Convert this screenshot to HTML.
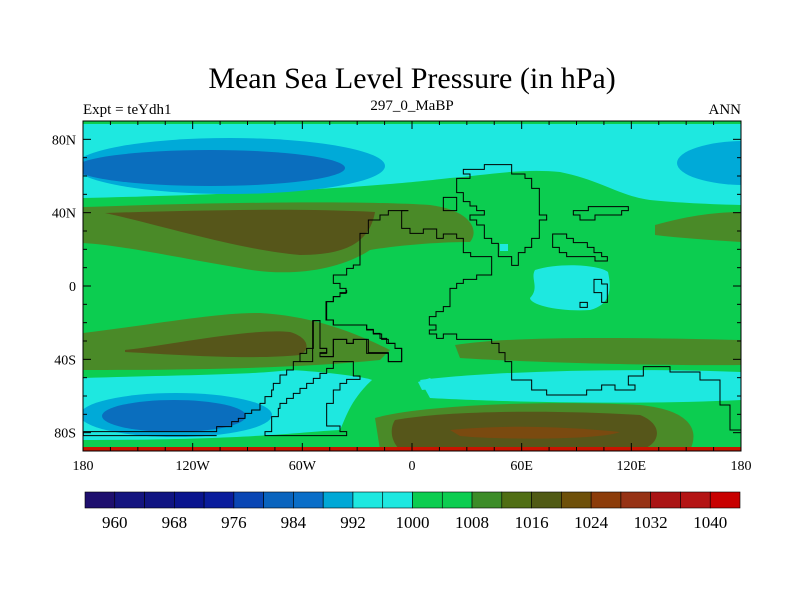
<!DOCTYPE html>
<html><head><meta charset="utf-8"><style>
body{margin:0;background:#fff;}
svg{display:block;font-family:"Liberation Serif",serif;}
</style></head><body>
<svg id="chart" width="800" height="600" viewBox="0 0 800 600">
<text x="412" y="88" font-size="30" text-anchor="middle">Mean Sea Level Pressure (in hPa)</text>
<text x="83" y="114" font-size="15">Expt = teYdh1</text>
<text x="412" y="110" font-size="15" text-anchor="middle">297_0_MaBP</text>
<text x="741" y="114" font-size="15" text-anchor="end">ANN</text>
<defs><clipPath id="mapclip"><rect x="83" y="121" width="658" height="330"/></clipPath></defs>
<g clip-path="url(#mapclip)">
<rect x="83" y="121" width="658" height="330" fill="#0ccd50"/>
<path d="M83,124 L741,124 L741,205 C700,204 670,202 650,200 C620,196 600,180 560,172 C520,168 480,176 450,178 C400,184 300,193 83,198 Z" fill="#1ee8e0"/>
<ellipse cx="230" cy="166" rx="155" ry="28" fill="#00aad8"/>
<ellipse cx="210" cy="168" rx="135" ry="18" fill="#0a6ebe"/>
<ellipse cx="745" cy="163" rx="68" ry="22" fill="#00aad8"/>
<path d="M83,207 C200,203 350,200 430,205 C470,210 480,230 470,242 C440,242 400,245 370,250 C340,270 290,278 240,268 C180,258 120,245 83,243 Z" fill="#4a8a28"/>
<path d="M105,213 C200,210 300,208 375,212 C370,240 350,255 300,255 C240,250 160,225 105,213 Z" fill="#56561a"/>
<path d="M655,225 C690,215 720,212 741,212 L741,242 C710,240 680,238 655,235 Z" fill="#4a8a28"/>
<path d="M535,270 C560,262 600,265 608,272 C612,290 610,305 590,310 C560,312 530,305 530,298 C540,288 530,278 535,270 Z" fill="#1ee8e0"/>
<rect x="500" y="244" width="8" height="7" fill="#1ee8e0"/>
<path d="M83,333 C150,325 220,312 260,313 C310,316 350,330 390,350 L380,360 C300,368 200,370 83,370 Z" fill="#4a8a28"/>
<path d="M125,350 C170,345 250,328 290,332 C310,338 310,350 300,355 C250,360 180,355 125,352 Z" fill="#56561a"/>
<path d="M455,345 C520,335 640,338 741,340 L741,365 C650,366 520,362 460,358 Z" fill="#4a8a28"/>
<path d="M83,378 C180,375 250,375 290,370 C330,372 370,378 372,380 C350,400 345,420 340,430 C300,432 250,440 83,440 Z" fill="#1ee8e0"/>
<path d="M420,380 C500,370 650,368 741,372 L741,400 C640,405 500,402 430,398 Z" fill="#1ee8e0"/>
<path d="M418,382 L430,378 L440,388 L422,390 Z" fill="#1ee8e0"/>
<ellipse cx="176" cy="415" rx="96" ry="22" fill="#00aad8"/>
<ellipse cx="174" cy="416" rx="72" ry="16" fill="#0a6ebe"/>
<path d="M375,418 C420,405 550,400 640,405 C690,410 700,430 690,450 L380,450 Z" fill="#4a8a28"/>
<path d="M395,420 C450,410 560,410 640,415 C665,425 660,445 640,450 L400,450 C390,440 390,428 395,420 Z" fill="#56561a"/>
<path d="M450,430 C500,425 560,426 620,432 C600,440 500,440 460,436 Z" fill="#7a4a10"/>
<rect x="83" y="447" width="658" height="4" fill="#c81400"/>
</g>
<g fill="none" stroke="#000" stroke-width="1" clip-path="url(#mapclip)">
<g transform="translate(300,160) scale(0.33333)">
<path vector-effect="non-scaling-stroke" d="M325,152 L305,152 L305,205 L330,205 L330,220 L370,220 L370,207 L410,207 L410,235 L430,235 L430,222 L470,222 L470,235 L490,235 L490,278 L512,278 L512,290 L575,290 L575,345 L530,345 L530,358 L490,358 L490,370 L470,370 L470,385 L450,385 L450,440 L430,440 L430,455 L408,455 L408,470 L388,470 L388,495 L408,495 L408,510 L388,510 L388,522 L410,522 L410,535 L430,535 L430,522 L470,522 L470,538 L575,538 L575,550 L597,550 L597,578 L615,578 L615,605 L635,605 L635,660 L695,660 L695,690 L740,690 L740,705 L860,705 L860,690 L905,690 L905,675 L945,675 L945,690 L1005,690 L1005,675 L985,675 L985,648 L1030,648 L1030,620 L1050,620 L1110,620 L1110,636 L1200,636 L1200,660 L1260,660 L1260,735 L1290,735 L1290,810 L1330,810"/>
<path vector-effect="non-scaling-stroke" d="M325,152 L265,152 L265,165 L240,165 L240,180 L205,180 L205,220 L180,220 L180,315 L160,315 L160,325 L140,325 L140,345 L100,345 L100,370 L120,370 L120,385 L138,385 L138,400 L120,400 L120,410 L100,410 L100,425 L78,425 L78,480 L100,480 L100,495 L200,495 L200,510 L220,510 L220,522 L245,522 L245,538 L265,538 L265,550 L285,550 L285,565 L305,565 L305,605 L265,605 L265,578 L205,578 L205,538 L160,538 L160,550 L140,550 L140,538 L100,538 L100,590 L60,590 L60,578 L80,578 L80,565 L60,565 L60,482 L38,482 L38,605 L0,605"/>
<path vector-effect="non-scaling-stroke" d="M553,14 L553,28 L490,28 L490,42 L510,42 L510,55 L470,55 L470,98 L490,98 L490,125 L510,125 L510,138 L530,138 L530,152 L553,152 L553,165 L510,165 L510,180 L530,180 L530,195 L553,195 L553,235 L575,235 L575,250 L595,250 L595,290 L635,290 L635,316 L655,316 L655,278 L675,278 L675,262 L695,262 L695,235 L718,235 L718,180 L740,180 L740,165 L718,165 L718,85 L695,85 L695,55 L675,55 L675,42 L635,42 L635,14 Z"/>
<path vector-effect="non-scaling-stroke" d="M430,112 L470,112 L470,152 L430,152 Z"/>
<path vector-effect="non-scaling-stroke" d="M820,152 L865,152 L865,140 L985,140 L985,152 L965,152 L965,165 L885,165 L885,180 L840,180 L840,165 L820,165 Z"/>
<path vector-effect="non-scaling-stroke" d="M758,222 L800,222 L800,235 L820,235 L820,248 L862,248 L862,262 L882,262 L882,278 L905,278 L905,290 L922,290 L922,303 L885,303 L885,290 L800,290 L800,278 L778,278 L778,262 L758,262 Z"/>
<path vector-effect="non-scaling-stroke" d="M882,358 L905,358 L905,372 L922,372 L922,427 L905,427 L905,398 L882,398 Z"/>
<path vector-effect="non-scaling-stroke" d="M840,427 L862,427 L862,442 L840,442 Z"/>
</g>
<g transform="translate(80,290) scale(0.33333)">
<path vector-effect="non-scaling-stroke" d="M800,0 L800,8 L780,8 L780,20 L760,20 L760,35 L740,35 L740,90 L760,90 L760,105 L860,105 L860,118 L880,118 L880,130 L900,130 L900,145 L920,145 L920,160 L945,160 L945,175 L965,175 L965,215 L925,215 L925,190 L860,190 L860,148 L820,148 L820,160 L800,160 L800,148 L760,148 L760,200 L720,200 L720,190 L740,190 L740,175 L720,175 L720,92 L700,92 L700,175 L680,175 L680,190 L660,190 L660,215 L640,215 L640,240 L620,240 L620,255 L600,255 L600,280 L580,280 L580,300 L575,300 L575,320 L555,320 L555,340 L540,340 L540,360 L515,360 L515,370 L495,370 L495,385 L475,385 L475,395 L455,395 L455,410 L410,410 L410,425 L10,425 L10,437 L410,437"/>
<path vector-effect="non-scaling-stroke" d="M555,425 L555,437 L800,437 L800,425 L780,425 L780,408 L740,408 L740,340 L760,340 L760,300 L780,300 L780,280 L800,280 L800,268 L840,268 L840,258 L820,258 L820,215 L760,215 L760,235 L740,235 L740,250 L720,250 L720,265 L700,265 L700,280 L680,280 L680,295 L660,295 L660,310 L640,310 L640,325 L620,325 L620,340 L600,340 L600,355 L595,355 L595,380 L575,380 L575,410 L575,425 Z"/>
</g>
</g>
<rect x="83" y="121" width="658" height="330" fill="none" stroke="#000" stroke-width="1"/>
<g id="ticks" stroke="#000" stroke-width="1"></g>
<g id="labels" font-size="14"></g>
<g id="colorbar"></g>
<script>
const lonTicks=[-180,-120,-60,0,60,120,180];
const lonTickLabels=["180","120W","60W","0","60E","120E","180"];
const latTicks=[80,40,0,-40,-80];
const latTickLabels=["80N","40N","0","40S","80S"];
const cbColors=["#1e0f6e","#14147f","#101482","#0a148e","#0a1c9c","#0a46b4","#0a64be","#0a6ec8","#00a8d6","#1ee8e0","#1ee8e0","#0ccd50","#0ccd50","#3c8c28","#506e14","#505a14","#6e500a","#8c3c0a","#963214","#aa1414","#b41414","#c80000"];
const cbLabels=["960","968","976","984","992","1000","1008","1016","1024","1032","1040"];
const NS="http://www.w3.org/2000/svg";
const X0=83,X1=741,Y0=121,Y1=451;
const xs=l=>X0+(l+180)/360*(X1-X0);
const ys=l=>Y0+(90-l)/180*(Y1-Y0);
const tg=document.getElementById('ticks'),lg=document.getElementById('labels'),cb=document.getElementById('colorbar');
function line(x1,y1,x2,y2){const e=document.createElementNS(NS,'line');e.setAttribute('x1',x1);e.setAttribute('y1',y1);e.setAttribute('x2',x2);e.setAttribute('y2',y2);


tg.appendChild(e);}
for(let l=-180;l<=180;l+=15){const x=xs(l),len=(l%60===0)?8:4;line(x,Y1,x,Y1-len);line(x,Y0,x,Y0+len);}
for(let l=-90;l<=90;l+=10){const y=ys(l),len=(l%40===0)?8:4;line(X0,y,X0+len,y);line(X1,y,X1-len,y);}
lonTicks.forEach((v,i)=>{const t=document.createElementNS(NS,'text');t.setAttribute('x',xs(v));t.setAttribute('y',470);t.setAttribute('text-anchor','middle');t.textContent=lonTickLabels[i];


lg.appendChild(t);});
latTicks.forEach((v,i)=>{const t=document.createElementNS(NS,'text');t.setAttribute('x',76);t.setAttribute('y',ys(v)+5);t.setAttribute('text-anchor','end');t.textContent=latTickLabels[i];


lg.appendChild(t);});
const CBX0=85,CBX1=740,CBY=492,CBH=16,bw=(CBX1-CBX0)/cbColors.length;
cbColors.forEach((c,i)=>{const r=document.createElementNS(NS,'rect');r.setAttribute('x',CBX0+i*bw);r.setAttribute('y',CBY);r.setAttribute('width',bw);r.setAttribute('height',CBH);r.setAttribute('fill',c);r.setAttribute('stroke','#000');r.setAttribute('stroke-width','0.6');


cb.appendChild(r);});
cbLabels.forEach((s,i)=>{const t=document.createElementNS(NS,'text');t.setAttribute('x',CBX0+(1+2*i)*bw);t.setAttribute('y',528);t.setAttribute('text-anchor','middle');t.setAttribute('font-size','17');t.textContent=s;


cb.appendChild(t);});
</script>
</svg>
</body></html>
